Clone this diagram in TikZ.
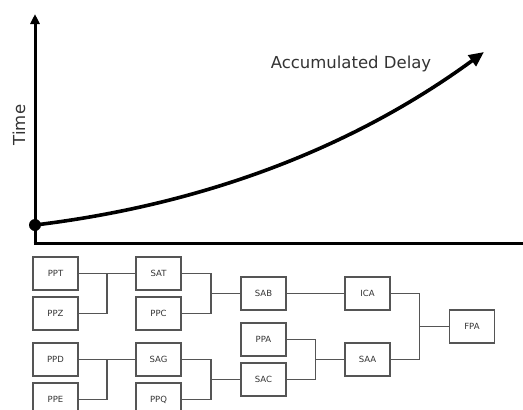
\documentclass[tikz,border=0pt]{standalone}
\usepackage{fontspec}
\setmainfont{DejaVu Sans}
\usetikzlibrary{arrows.meta,calc}
\definecolor{boxline}{HTML}{555555}
\definecolor{labeltext}{HTML}{333333}
\begin{document}
\begin{tikzpicture}[x=1pt,y=-1pt,
  stagebox/.style={draw=boxline,line width=1.4pt,minimum width=45pt,minimum height=33pt,
    inner sep=0pt,font=\fontsize{8.5}{10}\selectfont,text=labeltext},
  link/.style={draw=boxline,line width=1.3pt},
  axis/.style={line width=3pt,line cap=butt}]
\useasboundingbox (0,0) rectangle (523,410);
\clip (0,0) rectangle (523,410);

% axes
\coordinate (origin) at (35,243);
\coordinate (ytop) at (35,14);
\coordinate (xend) at (523,243);
\draw[axis,-{Triangle[length=10pt,width=9pt]}] (origin) -- (ytop);
\draw[axis] (33.5,243) -- (xend);
\node[rotate=90,font=\fontsize{16.5}{19}\selectfont,text=labeltext] (tlabel) at (19,125) {Time};

% delay curve
\coordinate (cstart) at (35,225);
\coordinate (cend) at (484,52);
\draw[line width=3.6pt,-{Triangle[length=15pt,width=13pt]}]
  (cstart) .. controls (200,205) and (350,150) .. (cend);
\fill (cstart) circle (6pt);
\node[font=\fontsize{16.5}{19}\selectfont,text=labeltext] (dlabel) at (351,64) {Accumulated Delay};

% stage boxes
\node[stagebox] (PPT) at (55.5,273.5) {PPT};
\node[stagebox] (PPZ) at (55.5,313.5) {PPZ};
\node[stagebox] (PPD) at (55.5,359.5) {PPD};
\node[stagebox] (PPE) at (55.5,399.5) {PPE};
\node[stagebox] (SAT) at (158.5,273.5) {SAT};
\node[stagebox] (PPC) at (158.5,313.5) {PPC};
\node[stagebox] (SAG) at (158.5,359.5) {SAG};
\node[stagebox] (PPQ) at (158.5,399.5) {PPQ};
\node[stagebox] (SAB) at (263.5,293.5) {SAB};
\node[stagebox] (PPA) at (263.5,339.5) {PPA};
\node[stagebox] (SAC) at (263.5,379.5) {SAC};
\node[stagebox] (ICA) at (367.5,293.5) {ICA};
\node[stagebox] (SAA) at (367.5,359.5) {SAA};
\node[stagebox] (FPA) at (472,326.5) {FPA};

% junctions
\coordinate (j1) at (107,273.5);
\coordinate (j2) at (107,359.5);
\coordinate (j3) at (211,293.5);
\coordinate (j4) at (211,379.5);
\coordinate (j5) at (315.5,359.5);
\coordinate (j6) at (419.5,326.5);

% connectors
\draw[link] (PPT.east) -- (SAT.west);
\draw[link] (PPZ.east) -| (j1);
\draw[link] (PPD.east) -- (SAG.west);
\draw[link] (PPE.east) -| (j2);
\draw[link] (SAT.east) -| (j3) |- (PPC.east);
\draw[link] (j3) -- (SAB.west);
\draw[link] (SAG.east) -| (j4) |- (PPQ.east);
\draw[link] (j4) -- (SAC.west);
\draw[link] (SAB.east) -- (ICA.west);
\draw[link] (PPA.east) -| (j5) |- (SAC.east);
\draw[link] (j5) -- (SAA.west);
\draw[link] (ICA.east) -| (j6) |- (SAA.east);
\draw[link] (j6) -- (FPA.west);
\end{tikzpicture}
\end{document}
